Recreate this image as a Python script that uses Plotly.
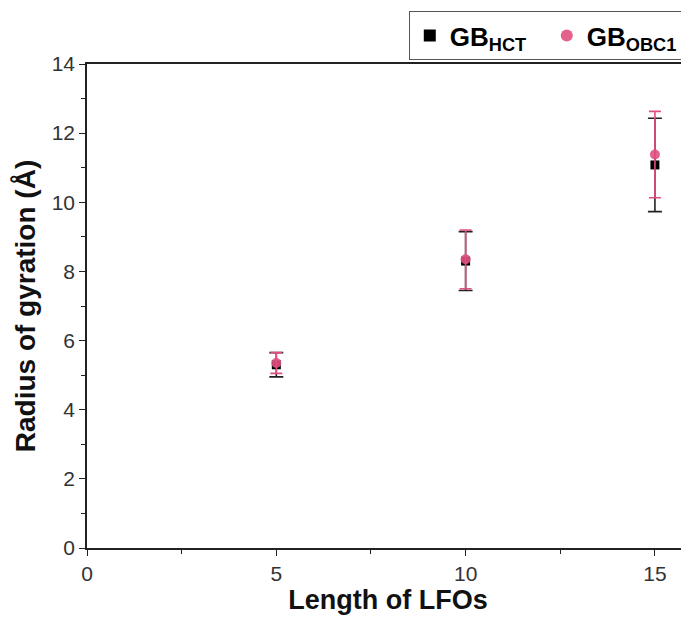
import plotly.graph_objects as go

lengths = [5, 10, 15]
hct_rg = [5.30, 8.30, 11.08]
hct_err = [0.35, 0.85, 1.35]
obc1_rg = [5.35, 8.35, 11.38]
obc1_err = [0.30, 0.85, 1.25]

x_title = "Length of LFOs"
y_title = "Radius of gyration (Å)"
hct_name = "<b>GB<sub>HCT</sub></b>"
obc1_name = "<b>GB<sub>OBC1</sub></b>"

font_family = "Liberation Sans, Arial, sans-serif"
pink = "#e0507e"

fig = go.Figure()
fig.add_trace(go.Scatter(
    x=lengths, y=hct_rg, mode="markers", name=hct_name,
    marker=dict(symbol="square", size=9, color="black"),
    error_y=dict(type="data", array=hct_err, visible=True, color="#222222", thickness=1.6, width=7),
))
fig.add_trace(go.Scatter(
    x=lengths, y=obc1_rg, mode="markers", name=obc1_name,
    marker=dict(symbol="circle", size=10, color=pink, opacity=0.9),
    error_y=dict(type="data", array=obc1_err, visible=True, color=pink, thickness=1.6, width=6),
))

axis_common = dict(
    showline=True, linecolor="#222222", linewidth=1.6,
    ticks="outside", ticklen=6, tickwidth=1.4, tickcolor="#222222",
    showgrid=False, zeroline=False, automargin=False,
    tickfont=dict(family=font_family, size=21, color="#333333"),
)

fig.update_layout(
    width=689, height=623,
    margin=dict(l=79, r=8, t=56, b=83, autoexpand=False),
    paper_bgcolor="white", plot_bgcolor="white",
    font=dict(family=font_family, color="#111111"),
    xaxis=dict(axis_common, range=[0, 15.9], tick0=0, dtick=5, mirror=True,
               minor=dict(ticks="outside", ticklen=4, tickwidth=1.2, tickcolor="#222222", dtick=2.5, tick0=0),
               title=dict(text="<b>" + x_title + "</b>", font=dict(family=font_family, size=27, color="#111111"), standoff=6)),
    yaxis=dict(axis_common, range=[0, 14], tick0=0, dtick=2,
               minor=dict(ticks="outside", ticklen=4, tickwidth=1.2, tickcolor="#222222", dtick=1, tick0=0),
               title=dict(text="<b>" + y_title + "</b>", font=dict(family=font_family, size=28, color="#111111"), standoff=8)),
    legend=dict(
        orientation="h", x=0.993, xanchor="right", y=1.008, yanchor="bottom",
        bordercolor="#555555", borderwidth=1, bgcolor="white",
        font=dict(family=font_family, size=26, color="black"),
        itemsizing="constant", tracegroupgap=0,
        entrywidth=92, entrywidthmode="pixels",
    ),
    showlegend=True,
)

fig.write_html("out.html")
